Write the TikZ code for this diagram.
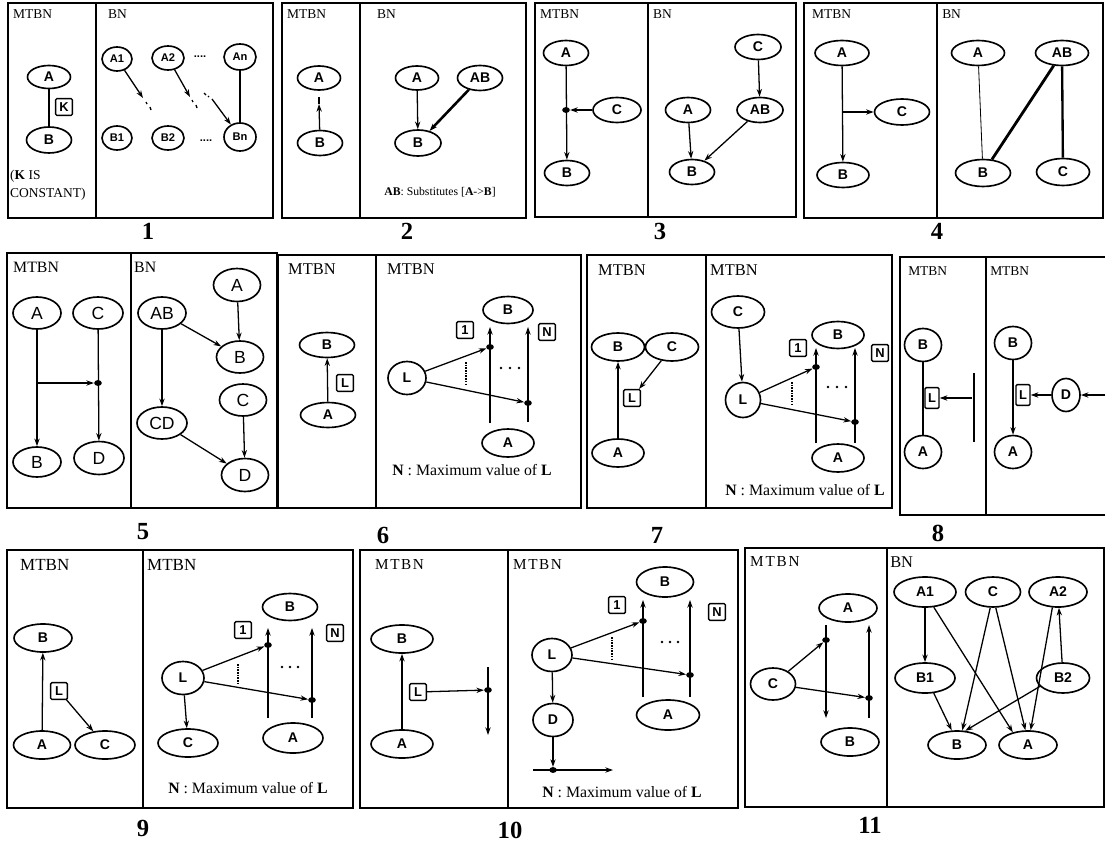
\documentclass[tikz,border=0pt]{standalone}
\usepackage{fontspec}
\setmainfont{Liberation Serif}
\setsansfont{Liberation Sans}
\usetikzlibrary{shapes.geometric,arrows.meta}

\tikzset{
    ell/.style 2 args={draw, ellipse, line width=1.4pt, inner sep=0pt, minimum width=#1*0.03cm, minimum height=#2*0.03cm, font=\sffamily\bfseries\fontsize{12}{12}\selectfont},
    sml/.style={font=\sffamily\bfseries\fontsize{9.5}{9.5}\selectfont},
    bigf/.style={font=\sffamily\fontsize{15}{15}\selectfont},
    sq/.style={draw, rounded corners=1pt, line width=1.2pt, inner sep=0pt, minimum size=0.5cm, font=\sffamily\bfseries\fontsize{11}{11}\selectfont},
    sqt/.style={sq, minimum width=0.42cm, minimum height=0.62cm},
    jdot/.style={fill, ellipse, inner sep=0pt, minimum width=6.5pt, minimum height=5pt},
    arr/.style={-{Stealth[length=6.5pt,width=4.5pt]}, line width=1.1pt},
    pbox/.style={line width=1.7pt},
    ttl/.style={anchor=west, inner sep=0pt, font=\fontsize{#1}{#1}\selectfont},
    ntxt/.style={font=\fontsize{13.5}{13.5}\selectfont},
    num/.style={font=\bfseries\fontsize{21}{21}\selectfont}
}

\begin{document}
\begin{tikzpicture}[x=0.03cm, y=-0.03cm]
    \useasboundingbox (0,0) rectangle (1105,844);

    \draw[pbox] (8,3) rectangle (273,218);
    \draw[pbox] (96,3) -- (96,218);
    \node[ttl=11.5] (t1l) at (13,14) {MTBN};
    \node[ttl=11.5] (t1r) at (108,14) {BN};
    \node[ell={43}{23}] (p1a) at (49,77) {A};
    \node[ell={45}{26}] (p1b) at (49,140) {B};
    \node[sq] (p1k) at (64,107) {K};
    \draw[line width=1.1pt] (p1a) -- (p1b);
    \node[ttl=11.5, align=left, font=\fontsize{11.5}{15}\selectfont] (p1txt) at (10,185) {(\textbf{K} IS\\CONSTANT)};
    \node[ell={30}{24}, sml] (p1a1) at (117,59) {A1};
    \node[ell={32}{24}, sml] (p1a2) at (168,58) {A2};
    \node[ell={32}{26}, sml] (p1an) at (240,57) {An};
    \node[ell={30}{24}, sml] (p1b1) at (117,138) {B1};
    \node[ell={32}{24}, sml] (p1b2) at (168,138) {B2};
    \node[ell={32}{28}, sml] (p1bn) at (240,137) {Bn};
    \node[sml] (p1d1) at (200,57) {....};
    \node[sml] (p1d2) at (206,141) {....};
    \coordinate (p1e1) at (143,98);
    \coordinate (p1e2) at (190,97);
    \coordinate (p1s3) at (212,99);
    \draw[arr] (p1a1) -- (p1e1);
    \draw[arr] (p1a2) -- (p1e2);
    \draw[arr] (p1s3) -- (p1bn);
    \draw[line width=1.1pt] (146,102) -- (147,104) (150,107) -- (151,110);
    \draw[line width=1.1pt] (192,100) -- (193,102) (196,105) -- (197,108);
    \draw[line width=1.1pt] (204,93) -- (206,95) (208,96) -- (209,97);
    \draw[line width=1.1pt] (p1an) -- (p1bn);

    \draw[pbox] (282,3) rectangle (526,218);
    \draw[pbox] (360,3) -- (360,218);
    \node[ttl=11.5] (t2l) at (287,14) {MTBN};
    \node[ttl=11.5] (t2r) at (377,14) {BN};
    \node[ell={43}{24}] (p2a) at (319,78) {A};
    \node[ell={45}{25}] (p2b) at (320,143) {B};
    \coordinate (p2m) at (319,104);
    \draw[arr] (p2b) -- (p2m);
    \draw[line width=1.1pt] (p2m) -- (319,97);
    \node[ell={43}{24}] (p2ra) at (417,78) {A};
    \node[ell={45}{25}] (p2rab) at (480,78) {AB};
    \node[ell={46}{26}] (p2rb) at (418,143) {B};
    \draw[arr] (p2ra) -- (p2rb);
    \draw[arr, line width=2.2pt] (p2rab) -- (p2rb);
    \node[font=\fontsize{10}{10}\selectfont] (p2txt) at (440,192) {\textbf{AB}: Substitutes [\textbf{A}->\textbf{B}]};

    \draw[pbox] (535,3) rectangle (796,217);
    \draw[pbox] (648,3) -- (648,217);
    \node[ttl=11.5] (t3l) at (540,14) {MTBN};
    \node[ttl=11.5] (t3r) at (653,14) {BN};
    \node[ell={45}{25}] (p3a) at (566,53) {A};
    \node[ell={45}{25}] (p3b) at (567,173) {B};
    \node[ell={48}{25}] (p3c) at (617,110) {C};
    \node[jdot] (p3j) at (566,110) {};
    \draw[arr] (p3a) -- (p3b);
    \draw[arr] (p3c) -- (p3j);
    \node[ell={46}{25}] (p3rc) at (758,47) {C};
    \node[ell={46}{25}] (p3rab) at (760,110) {AB};
    \node[ell={45}{25}] (p3ra) at (688,110) {A};
    \node[ell={45}{25}] (p3rb) at (692,172) {B};
    \draw[arr] (p3rc) -- (p3rab);
    \draw[arr] (p3ra) -- (p3rb);
    \draw[arr] (p3rab) -- (p3rb);

    \draw[pbox] (804,3) rectangle (1103,218);
    \draw[pbox] (937,3) -- (937,218);
    \node[ttl=11.5] (t4l) at (812,14) {MTBN};
    \node[ttl=11.5] (t4r) at (942,14) {BN};
    \node[ell={54}{25}] (p4a) at (842,53) {A};
    \node[ell={52}{25}] (p4b) at (843,175) {B};
    \node[ell={55}{26}] (p4c) at (902,112) {C};
    \coordinate (p4j) at (843,112);
    \draw[arr] (p4a) -- (p4b);
    \draw[arr] (p4j) -- (p4c);
    \node[ell={53}{25}] (p4ra) at (978,53) {A};
    \node[ell={53}{25}] (p4rab) at (1062,53) {AB};
    \node[ell={55}{27}] (p4rb) at (983,173) {B};
    \node[ell={53}{27}] (p4rc) at (1063,172) {C};
    \draw[line width=0.7pt] (p4ra) -- (p4rb);
    \draw[line width=2.4pt] (p4rab) -- (p4rb);
    \draw[line width=2pt] (p4rab) -- (p4rc);

    \node[num] (n1) at (148,231) {1};
    \node[num] (n2) at (407,231) {2};
    \node[num] (n3) at (660,231) {3};
    \node[num] (n4) at (937,231) {4};

    \draw[pbox] (7,253) rectangle (277,508);
    \draw[pbox] (131,253) -- (131,508);
    \node[ttl=13.5] (t5l) at (13,267) {MTBN};
    \node[ttl=13.5] (t5r) at (134,267) {BN};
    \node[ell={48}{32}, bigf] (p5a) at (37,313) {A};
    \node[ell={50}{32}, bigf] (p5c) at (98,313) {C};
    \node[ell={48}{30}, bigf] (p5b) at (37,462) {B};
    \node[ell={50}{33}, bigf] (p5d) at (99,458) {D};
    \draw[arr] (p5a) -- (p5b);
    \draw[arr] (p5c) -- (p5d);
    \coordinate (p5s) at (37,383);
    \node[jdot] (p5j) at (98,383) {};
    \draw[arr] (p5s) -- (p5j);
    \node[ell={47}{33}, bigf] (p5ra) at (237,285) {A};
    \node[ell={48}{32}, bigf] (p5rab) at (162,313) {AB};
    \node[ell={47}{32}, bigf] (p5rb) at (240,357) {B};
    \node[ell={47}{32}, bigf] (p5rc) at (243,400) {C};
    \node[ell={50}{32}, bigf] (p5rcd) at (162,423) {CD};
    \node[ell={47}{33}, bigf] (p5rd) at (245,475) {D};
    \draw[arr] (p5ra) -- (p5rb);
    \draw[arr] (p5rab) -- (p5rb);
    \draw[arr] (p5rab) -- (p5rcd);
    \draw[arr] (p5rcd) -- (p5rd);
    \draw[arr] (p5rc) -- (p5rd);

    \draw[pbox] (278,255) rectangle (581,508);
    \draw[pbox] (376,255) -- (376,508);
    \node[ttl=14] (t6l) at (288,269) {MTBN};
    \node[ttl=14] (t6r) at (387,269) {MTBN};
    \node[ell={55}{25}] (p6b) at (327,345) {B};
    \node[ell={55}{25}] (p6a) at (328,415) {A};
    \node[sq] (p6l) at (345,383) {L};
    \draw[arr] (p6a) -- (p6b);
    \node[ell={50}{27}] (p6rb) at (508,310) {B};
    \node[ell={38}{33}] (p6rl) at (407,378) {L};
    \node[ell={52}{28}] (p6ra) at (508,443) {A};
    \node[sq] (p6k1) at (465,330) {1};
    \node[sq] (p6kn) at (547,332) {N};
    \coordinate (p6s1) at (490,423);
    \coordinate (p6e1) at (490,327);
    \coordinate (p6s2) at (528,422);
    \coordinate (p6e2) at (528,327);
    \draw[arr] (p6s1) -- (p6e1);
    \draw[arr] (p6s2) -- (p6e2);
    \node[jdot] (p6j1) at (490,347) {};
    \node[jdot] (p6j2) at (528,403) {};
    \draw[arr] (p6rl) -- (p6j1);
    \draw[arr] (p6rl) -- (p6j2);
    \draw[densely dotted, line width=1.3pt] (466,362) -- (466,386);
    \foreach \x in {501,510,519} \fill (\x,368) circle (1.2pt);
    \node[ntxt] (p6txt) at (472,470) {\textbf{N} : Maximum value of \textbf{L}};

    \draw[pbox] (587,255) rectangle (892,508);
    \draw[pbox] (706,255) -- (706,508);
    \node[ttl=14] (t7l) at (598,270) {MTBN};
    \node[ttl=14] (t7r) at (710,270) {MTBN};
    \node[ell={53}{28}] (p7b) at (618,347) {B};
    \node[ell={53}{28}] (p7c) at (672,347) {C};
    \node[ell={52}{28}] (p7a) at (618,453) {A};
    \node[sq] (p7l) at (632,398) {L};
    \draw[arr] (p7a) -- (p7b);
    \draw[arr] (p7c) -- (p7l);
    \node[ell={53}{32}] (p7rc) at (738,312) {C};
    \node[ell={35}{35}] (p7rl) at (743,400) {L};
    \node[ell={52}{27}] (p7rb) at (838,335) {B};
    \node[ell={52}{28}] (p7ra) at (838,458) {A};
    \node[sq] (p7k1) at (798,348) {1};
    \node[sq] (p7kn) at (880,353) {N};
    \draw[arr] (p7rc) -- (p7rl);
    \coordinate (p7s1) at (816,443);
    \coordinate (p7e1) at (816,348);
    \coordinate (p7s2) at (855,443);
    \coordinate (p7e2) at (855,348);
    \draw[arr] (p7s1) -- (p7e1);
    \draw[arr] (p7s2) -- (p7e2);
    \node[jdot] (p7j1) at (816,367) {};
    \node[jdot] (p7j2) at (855,422) {};
    \draw[arr] (p7rl) -- (p7j1);
    \draw[arr] (p7rl) -- (p7j2);
    \draw[densely dotted, line width=1.3pt] (792,382) -- (792,404);
    \foreach \x in {828,837,846} \fill (\x,387) circle (1.2pt);
    \node[ntxt] (p7txt) at (805,490) {\textbf{N} : Maximum value of \textbf{L}};

    \draw[pbox] (1105,257) -- (900,257) -- (900,515) -- (1105,515);
    \draw[pbox] (986,257) -- (986,515);
    \node[ttl=11.5] (t8l) at (908,271) {MTBN};
    \node[ttl=11.5] (t8r) at (990,271) {MTBN};
    \node[ell={37}{33}] (p8b) at (923,345) {B};
    \node[ell={37}{33}] (p8a) at (923,452) {A};
    \draw[line width=1.1pt] (p8b) -- (p8a);
    \node[sqt] (p8l) at (932,398) {L};
    \draw[line width=1.8pt] (974,373) -- (974,442);
    \coordinate (p8s) at (972,398);
    \draw[arr] (p8s) -- (p8l);
    \node[ell={37}{33}] (p8rb) at (1013,343) {B};
    \node[ell={37}{33}] (p8ra) at (1013,452) {A};
    \node[sqt] (p8rl) at (1023,395) {L};
    \node[ell={28}{33}] (p8rd) at (1066,395) {D};
    \draw[arr] (p8rb) -- (p8ra);
    \draw[arr] (p8rd) -- (p8rl);
    \coordinate (p8e) at (1105,395);
    \draw[arr] (p8e) -- (p8rd);

    \node[num] (n5) at (143,532) {5};
    \node[num] (n6) at (383,535) {6};
    \node[num] (n7) at (657,535) {7};
    \node[num] (n8) at (938,533) {8};

    \draw[pbox] (7,550) rectangle (353,808);
    \draw[pbox] (143,550) -- (143,808);
    \node[ttl=14.5] (t9l) at (20,565) {MTBN};
    \node[ttl=14.5] (t9r) at (147,565) {MTBN};
    \node[ell={58}{28}] (p9b) at (43,638) {B};
    \node[ell={57}{28}] (p9a) at (42,745) {A};
    \node[ell={60}{28}] (p9c) at (105,745) {C};
    \node[sq] (p9l) at (59,691) {L};
    \draw[arr] (p9a) -- (p9b);
    \draw[arr] (p9l) -- (p9c);
    \node[ell={55}{27}] (p9rb) at (290,607) {B};
    \node[ell={42}{33}] (p9rl) at (183,678) {L};
    \node[ell={60}{28}] (p9rc) at (188,743) {C};
    \node[ell={60}{30}] (p9ra) at (293,738) {A};
    \node[sq] (p9k1) at (243,630) {1};
    \node[sq] (p9kn) at (335,633) {N};
    \coordinate (p9s1) at (268,718);
    \coordinate (p9e1) at (268,628);
    \coordinate (p9s2) at (312,718);
    \coordinate (p9e2) at (312,628);
    \draw[arr] (p9s1) -- (p9e1);
    \draw[arr] (p9s2) -- (p9e2);
    \node[jdot] (p9j1) at (268,645) {};
    \node[jdot] (p9j2) at (312,700) {};
    \draw[arr] (p9rl) -- (p9j1);
    \draw[arr] (p9rl) -- (p9j2);
    \draw[arr] (p9rl) -- (p9rc);
    \draw[densely dotted, line width=1.3pt] (238,664) -- (238,684);
    \foreach \x in {282,290,298} \fill (\x,667) circle (1.2pt);
    \node[ntxt] (p9txt) at (248,788) {\textbf{N} : Maximum value of \textbf{L}};

    \draw[pbox] (360,550) rectangle (738,808);
    \draw[pbox] (508,550) -- (508,808);
    \node[ttl=13, font=\fontsize{13}{13}\selectfont\addfontfeature{LetterSpace=10}] (t10l) at (375,565) {MTBN};
    \node[ttl=13, font=\fontsize{13}{13}\selectfont\addfontfeature{LetterSpace=10}] (t10r) at (513,565) {MTBN};
    \node[ell={62}{28}] (p10b) at (402,639) {B};
    \node[ell={62}{28}] (p10a) at (402,744) {A};
    \node[sq] (p10l) at (418,692) {L};
    \draw[arr] (p10a) -- (p10b);
    \node[jdot] (p10j) at (488,690) {};
    \draw[arr] (p10l) -- (p10j);
    \coordinate (p10s) at (488,667);
    \coordinate (p10e) at (488,735);
    \draw[arr] (p10s) -- (p10e);
    \node[ell={57}{30}] (p10rb) at (665,582) {B};
    \node[ell={40}{33}] (p10rl) at (552,655) {L};
    \node[ell={40}{33}] (p10rd) at (553,720) {D};
    \node[ell={63}{30}] (p10ra) at (668,715) {A};
    \node[sq] (p10k1) at (617,605) {1};
    \node[sq] (p10kn) at (717,612) {N};
    \coordinate (p10s1) at (643,697);
    \coordinate (p10e1) at (643,600);
    \coordinate (p10s2) at (690,697);
    \coordinate (p10e2) at (690,600);
    \draw[arr] (p10s1) -- (p10e1);
    \draw[arr] (p10s2) -- (p10e2);
    \node[jdot] (p10rj1) at (643,621) {};
    \node[jdot] (p10rj2) at (690,675) {};
    \draw[arr] (p10rl) -- (p10rj1);
    \draw[arr] (p10rl) -- (p10rj2);
    \draw[arr] (p10rl) -- (p10rd);
    \node[jdot] (p10rj3) at (553,770) {};
    \draw[arr] (p10rd) -- (p10rj3);
    \coordinate (p10h1) at (533,770);
    \coordinate (p10h2) at (613,770);
    \draw[arr] (p10h1) -- (p10h2);
    \draw[densely dotted, line width=1.3pt] (612,637) -- (612,659);
    \foreach \x in {662,670,678} \fill (\x,642) circle (1.2pt);
    \node[ntxt] (p10txt) at (622,792) {\textbf{N} : Maximum value of \textbf{L}};

    \draw[pbox] (745,548) rectangle (1104,807);
    \draw[pbox] (887,548) -- (887,807);
    \node[ttl=13, font=\fontsize{13}{13}\selectfont\addfontfeature{LetterSpace=12}] (t11l) at (750,562) {MTBN};
    \node[ttl=14] (t11r) at (890,562) {BN};
    \node[ell={58}{28}] (p11a) at (848,608) {A};
    \node[ell={45}{32}] (p11c) at (773,684) {C};
    \node[ell={58}{28}] (p11b) at (850,742) {B};
    \coordinate (p11s1) at (826,625);
    \coordinate (p11e1) at (826,718);
    \coordinate (p11s2) at (869,718);
    \coordinate (p11e2) at (869,625);
    \draw[arr] (p11s1) -- (p11e1);
    \draw[arr] (p11s2) -- (p11e2);
    \node[jdot] (p11j1) at (826,640) {};
    \node[jdot] (p11j2) at (869,698) {};
    \draw[arr] (p11c) -- (p11j1);
    \draw[arr] (p11c) -- (p11j2);
    \node[ell={62}{30}] (p11ba1) at (925,592) {A1};
    \node[ell={55}{30}] (p11bc) at (993,592) {C};
    \node[ell={58}{30}] (p11ba2) at (1058,592) {A2};
    \node[ell={60}{30}] (p11bb1) at (925,678) {B1};
    \node[ell={53}{30}] (p11bb2) at (1063,678) {B2};
    \node[ell={58}{28}] (p11bb) at (957,745) {B};
    \node[ell={58}{28}] (p11ba) at (1028,745) {A};
    \draw[arr] (p11ba1) -- (p11bb1);
    \draw[arr] (p11ba1.-60) -- (p11ba.140);
    \draw[arr] (p11bc.-100) -- (p11bb.70);
    \draw[arr] (p11bc.-80) -- (p11ba.100);
    \draw[arr] (p11ba2.-110) -- (p11ba.80);
    \draw[arr] (p11bb2) -- (p11ba2);
    \draw[arr] (p11bb1.-60) -- (p11bb.110);
    \draw[arr] (p11bb2.200) -- (p11bb.60);

    \node[num] (n9) at (143,828) {9};
    \node[num] (n10) at (510,830) {10};
    \node[num] (n11) at (870,825) {11};
\end{tikzpicture}
\end{document}
